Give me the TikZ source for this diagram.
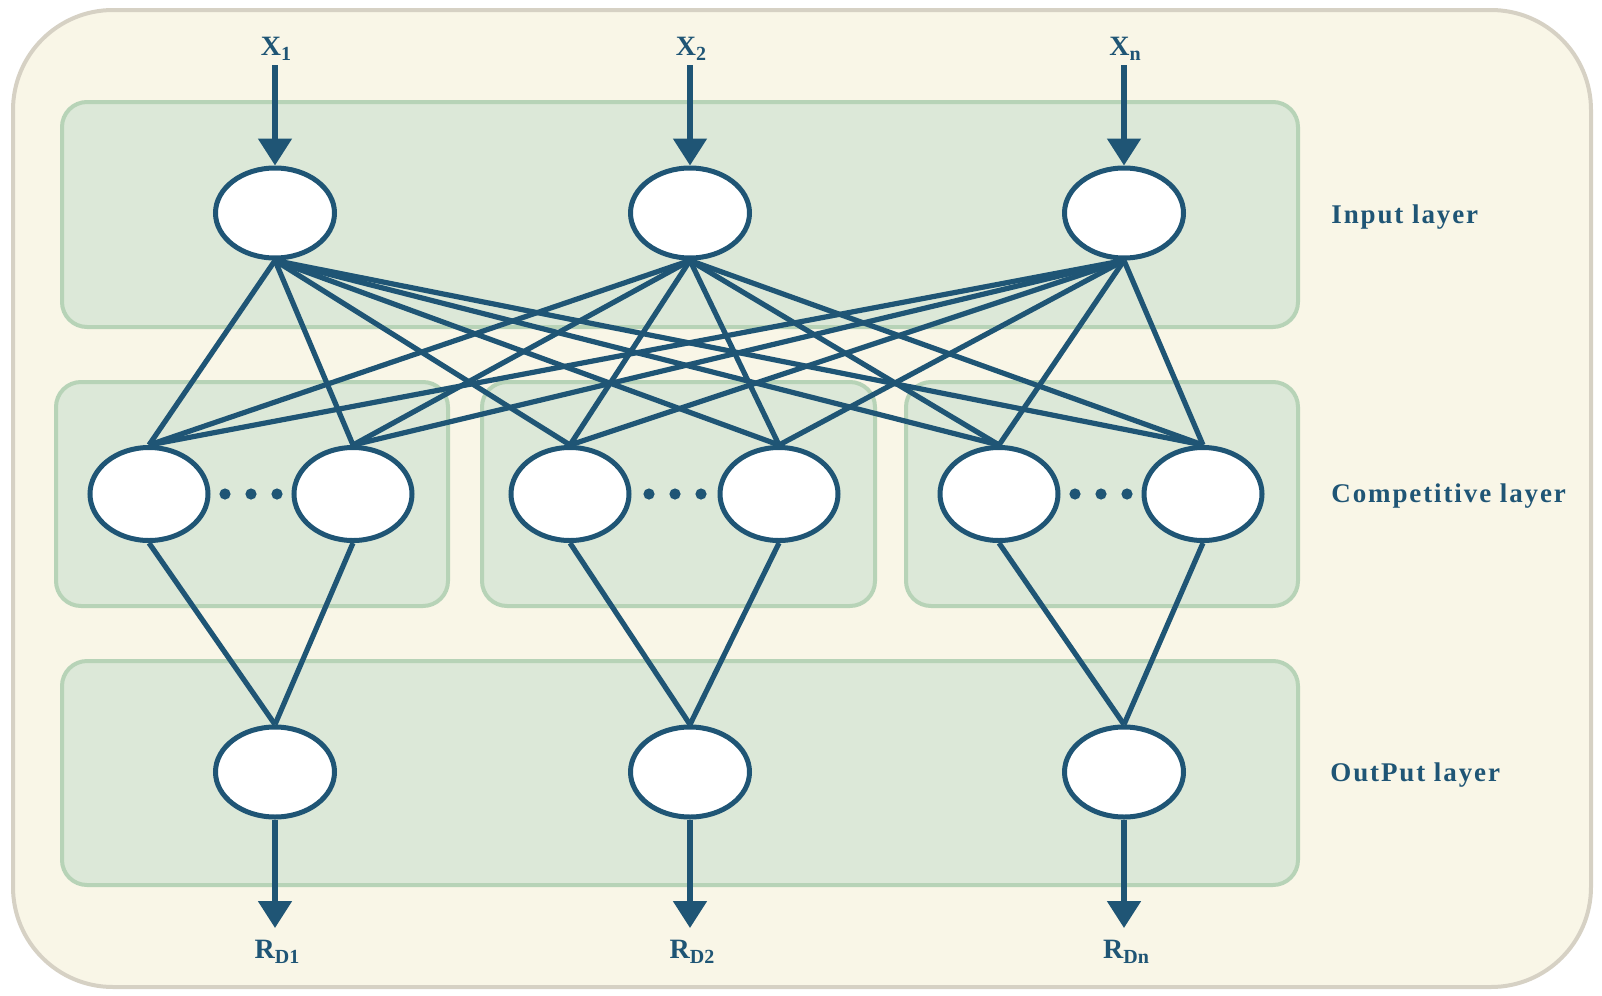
\documentclass[tikz,border=0pt]{standalone}
\usepackage{fontspec}
\setmainfont{Liberation Serif}
\newfontfamily\layerfont[LetterSpace=7]{Liberation Serif}
\usetikzlibrary{shapes.geometric,arrows.meta,backgrounds,calc}
\definecolor{netblue}{RGB}{31,85,117}
\definecolor{cream}{RGB}{249,246,231}
\definecolor{creamline}{RGB}{214,209,196}
\definecolor{bandfill}{RGB}{220,232,216}
\definecolor{bandline}{RGB}{183,211,183}
\newcommand{\sig}[2]{#1\raisebox{-0.2em}{\fontsize{10}{12}\selectfont #2}}
\tikzstyle{net}=[
  x=0.5pt,y=-0.5pt,>={Triangle[width=16.5pt,length=13.5pt]},
  font=\bfseries\fontsize{14}{16}\selectfont
]
\tikzstyle{neuron}=[
  draw=netblue,ellipse,fill=white,line width=2.5pt,inner sep=0pt,
  minimum width=59.5pt,minimum height=45pt
]
\tikzstyle{compneuron}=[
  neuron,minimum width=59pt,minimum height=46.5pt
]
\tikzstyle{band}=[
  draw=bandline,fill=bandfill,line width=2pt,rounded corners=12.5pt
]
\tikzstyle{link}=[
  draw=netblue,line width=2.6pt
]
\tikzstyle{signal}=[
  text=netblue,inner sep=0pt
]
\tikzstyle{layername}=[
  text=netblue,anchor=base west,inner sep=0pt,
  font=\layerfont\bfseries\fontsize{13.5}{16}\selectfont
]

\begin{document}
\begin{tikzpicture}[net]
  \useasboundingbox (0,0) rectangle (1602,996);
  % neurons
  \node (i1) at (275,213) [neuron] {};
  \node (i2) at (690,213) [neuron] {};
  \node (i3) at (1124,213) [neuron] {};
  \node (c1) at (149,494) [compneuron] {};
  \node (c2) at (353,494) [compneuron] {};
  \node (c3) at (570,494) [compneuron] {};
  \node (c4) at (779,494) [compneuron] {};
  \node (c5) at (999,494) [compneuron] {};
  \node (c6) at (1203,494) [compneuron] {};
  \node (o1) at (275,772) [neuron] {};
  \node (o2) at (690,772) [neuron] {};
  \node (o3) at (1124,772) [neuron] {};
  % signals in and out
  \node (x1) at (276,49) [signal] {\sig{X}{1}};
  \node (x2) at (691,49) [signal] {\sig{X}{2}};
  \node (x3) at (1125,49) [signal] {\sig{X}{n}};
  \node (r1) at (277,952) [signal] {\sig{R}{D1}};
  \node (r2) at (692,952) [signal] {\sig{R}{D2}};
  \node (r3) at (1126,952) [signal] {\sig{R}{Dn}};
  \coordinate (in1) at (275,65);
  \coordinate (in2) at (690,65);
  \coordinate (in3) at (1124,65);
  \coordinate (out1) at (275,928);
  \coordinate (out2) at (690,928);
  \coordinate (out3) at (1124,928);
  % layer names
  \node (inname) at (1331,223) [layername] {Input layer};
  \node (compname) at (1331,502) [layername] {Competitive layer};
  \node (outname) at (1330,781) [layername] {OutPut layer};
  % dots between competitive neurons
  \foreach \m in {251,675,1101}
    \foreach \d in {-26,0,26}
      \fill [netblue] (\m+\d,494) circle (2.8pt);
  \begin{scope}[on background layer]
    \draw [draw=creamline,fill=cream,line width=2pt,rounded corners=50pt]
      (13,10) rectangle (1591,987);
    \draw [band] (62,102) rectangle (1298,327);
    \draw [band] (56,382) rectangle (448,606);
    \draw [band] (482,382) rectangle (875,606);
    \draw [band] (906,382) rectangle (1298,606);
    \draw [band] (62,661) rectangle (1298,885);
    \foreach \i in {1,2,3}
      \foreach \c in {1,...,6}
        \draw [link] (i\i.south) -- (c\c.north);
    \foreach \c/\o in {1/1,2/1,3/2,4/2,5/3,6/3}
      \draw [link] (c\c.south) -- (o\o.north);
    \foreach \k in {1,2,3} {
      \draw [link,->] (in\k) -- (i\k.north);
      \draw [link,->] (o\k.south) -- (out\k);
    }
  \end{scope}
\end{tikzpicture}
\end{document}
